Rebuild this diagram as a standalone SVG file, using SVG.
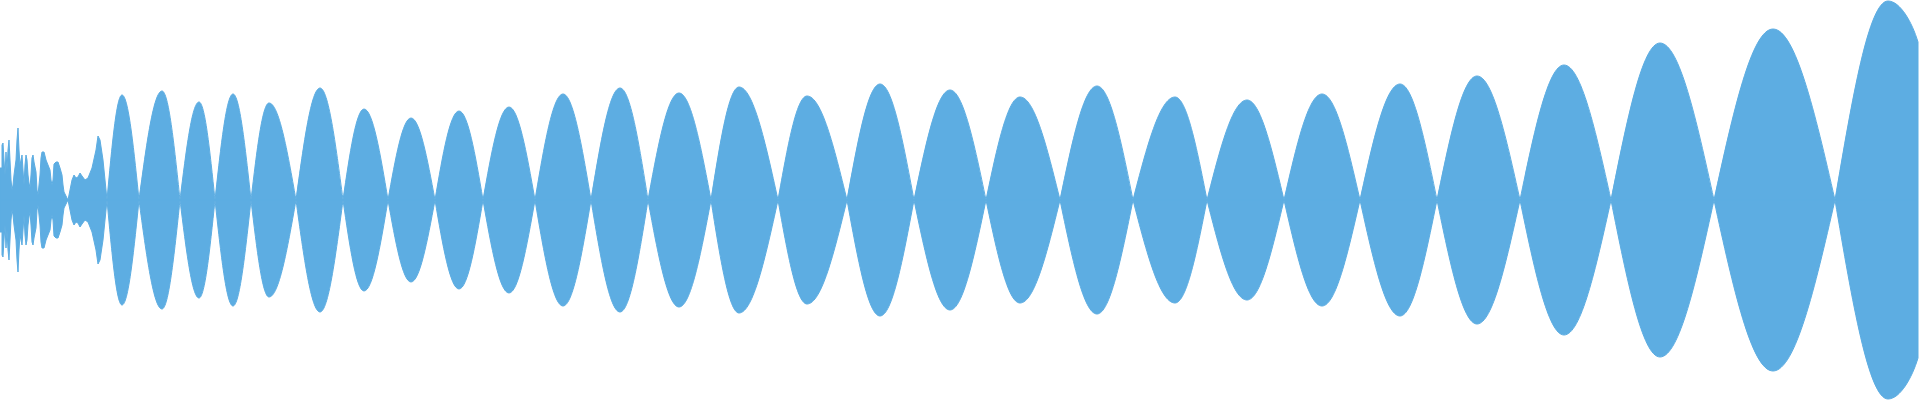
<svg xmlns="http://www.w3.org/2000/svg" width="1920" height="400" viewBox="0 0 1920 400">
<style>.w{fill:#5DADE2;stroke:#5DADE2;stroke-width:1;stroke-linejoin:round}</style>
<defs>
<path id="top" class="w" d="M0,200 L0,168 L2,168 L2,145 L3,143 L4,160 L5,175 L6,152 L7,170 L8,150 L9,140 L10,160 L11,180 L12,190 L13,185 L14,175 L16,160 L17,140 L18,128 L19,150 L20,165 L21,160 L22,155 L23,170 L24,185 L25,165 L26,155 L27,160 L28,175 L29,183 L30,188 L31,175 L32,158 L33,155 L34,162 L36,172 L37,190 L38,195 L40,175 L41,158 L42,152 L44,152 L46,160 L48,165 L50,170 L51,180 L52,185 L53,180 L54,164 L56,162 L58,162 L60,168 L62,175 L63,185 L64,192 L66,196 L68,200 L70,190 L72,180 L74,175 L76,178 L78,177 L80,173 L82,176 L85,180 L88,178 L92,168 L96,150 L98,136 L100,140 L103,160 L106,190 L107,200
C111.9,146 116.6,95 122,95 C128.2,95 133.5,146 139,200
C146.5,144 153.7,91 162,91 C168.5,91 174.1,144 180,200
C186.2,150 192.1,102 199,102 C204.8,102 209.8,150 215,200
C220.9,146 226.5,94 233,94 C239.5,94 245.1,146 251,200
C256.9,150 262.5,103 269,103 C278.8,103 287.2,150 296,200
C303.8,143 311.3,88 320,88 C328.3,88 335.5,143 343,200
C349.8,153 356.4,109 364,109 C372.7,109 380.2,153 388,200
C395.5,158 402.7,118 411,118 C419.7,118 427.2,158 435,200
C442.8,154 450.3,111 459,111 C467.7,111 475.2,154 483,200
C491.5,152 499.6,107 509,107 C518.4,107 526.5,152 535,200
C544.1,146 552.9,94 563,94 C573.1,94 581.9,146 591,200
C600.5,143 609.5,88 620,88 C630.1,88 638.9,143 648,200
C658.1,145 667.8,93 679,93 C690.6,93 700.6,145 711,200
C720.1,142 728.9,87 739,87 C753.1,87 765.3,142 778,200
C787.5,147 796.5,96 807,96 C821.5,96 834,147 847,200
C857.8,141 868.1,84 880,84 C892.3,84 902.9,141 914,200
C925.7,144 937,90 950,90 C963,90 974.3,144 986,200
C997.1,147 1007.7,97 1020,97 C1034.5,97 1047,147 1060,200
C1072.1,142 1083.6,86 1097,86 C1110,86 1121.3,142 1133,200
C1146.7,147 1159.8,97 1175,97 C1186.6,97 1196.6,147 1207,200
C1220,149 1232.5,100 1247,100 C1260.4,100 1271.9,149 1284,200
C1296.4,146 1308.2,94 1322,94 C1335.8,94 1347.6,146 1360,200
C1373,141 1385.5,84 1400,84 C1413.4,84 1424.9,141 1437,200
C1450,137 1462.5,76 1477,76 C1492.6,76 1506,137 1520,200
C1534.3,131 1548.1,65 1564,65 C1581,65 1595.7,131 1611,200
C1627,120 1642.3,43 1660,43 C1679.5,43 1696.4,120 1714,200
C1733.2,112 1751.6,29 1773,29 C1795.4,29 1814.8,112 1835,200
C1852.3,98 1868.8,1 1888,1 C1900,1 1912,22 1918,42 L1918,200 Z"/>
</defs>
<g id="waveform">
<use href="#top"/>
<use href="#top" transform="matrix(1 0 0 -1 0 400)"/>
</g>
</svg>
